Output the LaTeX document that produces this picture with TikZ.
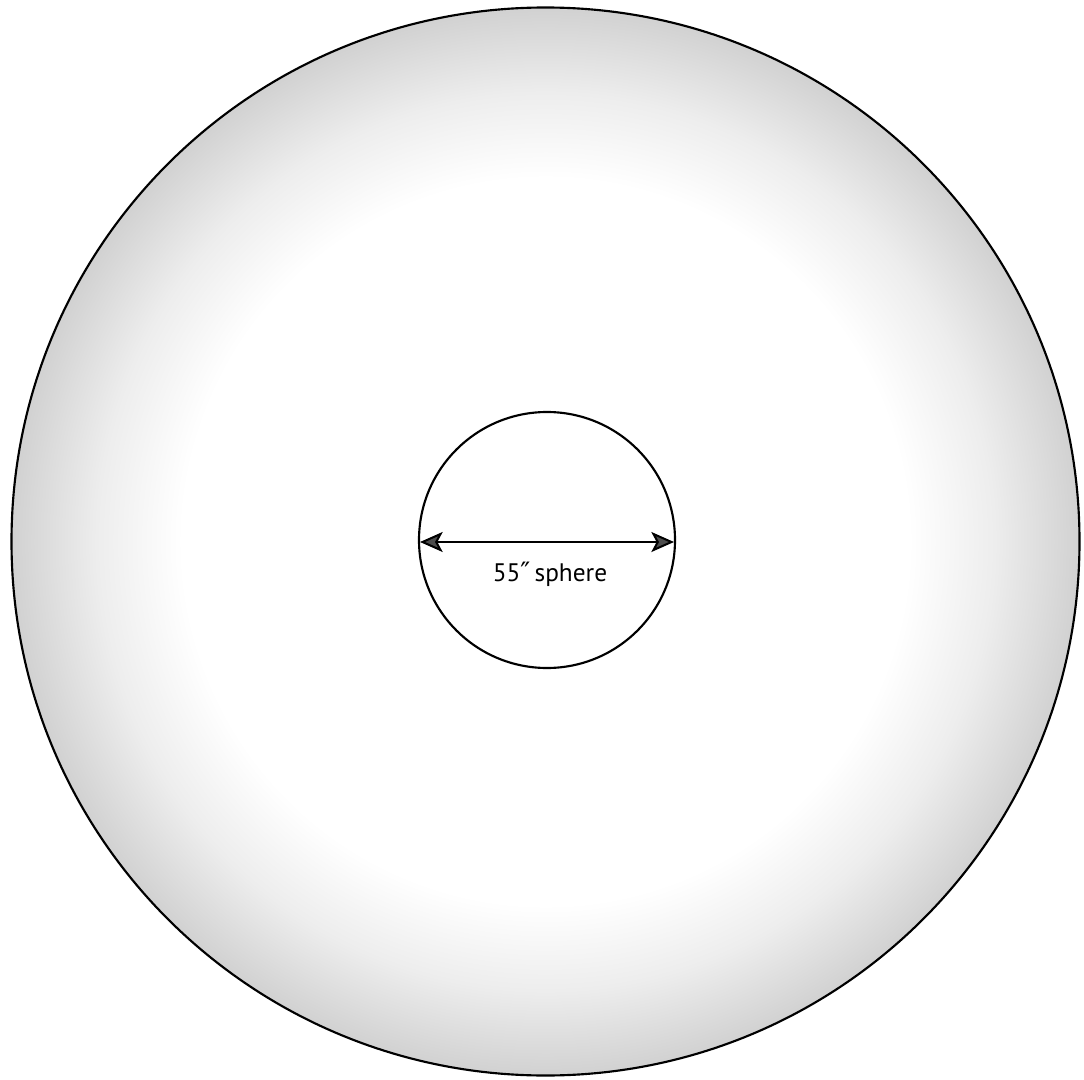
\documentclass[tikz,border=0pt]{standalone}
\usepackage{fontspec}
\setsansfont{PT Sans}
\newfontfamily\symfont{DejaVu Sans}
\usetikzlibrary{arrows.meta}
\pgfdeclareradialshading{ringshade}{\pgfpoint{0bp}{0bp}}{color(0bp)=(white); color(17bp)=(white); color(21bp)=(black!7); color(25bp)=(black!18); color(50bp)=(black!18)}
\tikzset{
  sphereline/.style={draw=black, line width=1.6pt},
  dimarrow/.style={line width=1.5pt, {Stealth[length=17pt,width=15pt,inset=4pt,fill=black!70]}-{Stealth[length=17pt,width=15pt,inset=4pt,fill=black!70]}},
  dimlabel/.style={font=\sffamily\fontsize{19}{21}\selectfont, inner sep=0pt}
}
\begin{document}
\begin{tikzpicture}[x=0.75pt,y=-0.75pt]
\useasboundingbox (0,0) rectangle (1084,1080);
\node[circle, minimum size=1068*0.75pt, inner sep=0pt, sphereline, shading=ringshade] (outer) at (545.5,541.5) {};
\node[circle, minimum size=256*0.75pt, inner sep=0pt, sphereline, fill=white] (inner) at (547,540) {};
\coordinate (L) at (420,542);
\coordinate (R) at (674,542);
\draw[dimarrow] (L) -- (R);
\node[dimlabel] (lab) at (550,574) {55{\symfont\fontsize{20}{22}\selectfont ″}\,sphere};
\end{tikzpicture}
\end{document}
